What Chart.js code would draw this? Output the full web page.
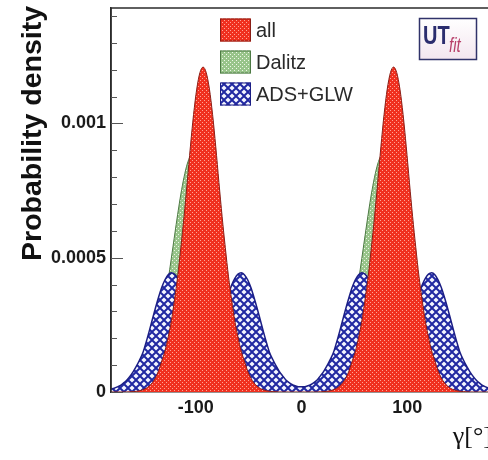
<!DOCTYPE html>
<html>
<head>
<meta charset="utf-8">
<script src="https://cdn.jsdelivr.net/npm/chart.js@4.4.1/dist/chart.umd.min.js"></script>
<style>
  html, body { margin: 0; padding: 0; background: #ffffff; overflow: hidden; width: 488px; height: 460px; }
  #wrap { position: relative; width: 520px; height: 460px; }
  canvas { display: block; }
</style>
</head>
<body>
<div id="wrap"><canvas id="pdf" width="520" height="460" style="width:520px;height:460px"></canvas></div>
<script>
// gamma sampling grid, degrees
const gammaDeg = [
  -180,-177,-174,-171,-168,-165,-162,-159,-156,-153,
  -150,-147,-144,-141,-138,-135,-132,-129,-126,-123,
  -120,-117,-114,-111,-108,-105,-102, -99, -96, -93,
   -90, -87, -84, -81, -78, -75, -72, -69, -66, -63,
   -60, -57, -54, -51, -48, -45, -42, -39, -36, -33,
   -30, -27, -24, -21, -18, -15, -12,  -9,  -6,  -3,
     0,   3,   6,   9,  12,  15,  18,  21,  24,  27,
    30,  33,  36,  39,  42,  45,  48,  51,  54,  57,
    60,  63,  66,  69,  72,  75,  78,  81,  84,  87,
    90,  93,  96,  99, 102, 105, 108, 111, 114, 117,
   120, 123, 126, 129, 132, 135, 138, 141, 144, 147,
   150, 153, 156, 159, 162, 165, 168, 171, 174, 177,
   180
];

// probability density of gamma, combined constraint
const allPdf = [
  0.0001e-3,0.0001e-3,0.0001e-3,0.0002e-3,0.0002e-3,0.0003e-3,0.0006e-3,0.0014e-3,0.0026e-3,0.0046e-3,
  0.0080e-3,0.0134e-3,0.0219e-3,0.0346e-3,0.0531e-3,0.0795e-3,0.116e-3,0.153e-3,0.204e-3,0.264e-3,
  0.343e-3,0.431e-3,0.538e-3,0.653e-3,0.780e-3,0.913e-3,1.033e-3,1.128e-3,1.189e-3,1.210e-3,
  1.189e-3,1.128e-3,1.033e-3,0.913e-3,0.780e-3,0.653e-3,0.538e-3,0.431e-3,0.343e-3,0.264e-3,
  0.204e-3,0.153e-3,0.116e-3,0.0795e-3,0.0531e-3,0.0346e-3,0.0219e-3,0.0134e-3,0.0080e-3,0.0046e-3,
  0.0026e-3,0.0014e-3,0.0006e-3,0.0003e-3,0.0002e-3,0.0002e-3,0.0001e-3,0.0001e-3,0.0001e-3,0.0001e-3,
  0.0001e-3,0.0001e-3,0.0001e-3,0.0002e-3,0.0002e-3,0.0003e-3,0.0006e-3,0.0014e-3,0.0026e-3,0.0046e-3,
  0.0080e-3,0.0134e-3,0.0219e-3,0.0346e-3,0.0531e-3,0.0795e-3,0.116e-3,0.153e-3,0.204e-3,0.264e-3,
  0.343e-3,0.431e-3,0.538e-3,0.653e-3,0.780e-3,0.913e-3,1.033e-3,1.128e-3,1.189e-3,1.210e-3,
  1.189e-3,1.128e-3,1.033e-3,0.913e-3,0.780e-3,0.653e-3,0.538e-3,0.431e-3,0.343e-3,0.264e-3,
  0.204e-3,0.153e-3,0.116e-3,0.0795e-3,0.0531e-3,0.0346e-3,0.0219e-3,0.0134e-3,0.0080e-3,0.0046e-3,
  0.0026e-3,0.0014e-3,0.0006e-3,0.0003e-3,0.0002e-3,0.0002e-3,0.0001e-3,0.0001e-3,0.0001e-3,0.0001e-3,
  0.0001e-3
];

// Dalitz-only constraint
const dalitzPdf = [
  0.0005e-3,0.0005e-3,0.001e-3,0.002e-3,0.003e-3,0.005e-3,0.008e-3,0.012e-3,0.019e-3,0.029e-3,
  0.043e-3,0.062e-3,0.087e-3,0.120e-3,0.162e-3,0.213e-3,0.272e-3,0.341e-3,0.417e-3,0.498e-3,
  0.581e-3,0.662e-3,0.737e-3,0.800e-3,0.849e-3,0.879e-3,0.890e-3,0.879e-3,0.849e-3,0.800e-3,
  0.737e-3,0.662e-3,0.581e-3,0.498e-3,0.417e-3,0.341e-3,0.272e-3,0.213e-3,0.162e-3,0.120e-3,
  0.087e-3,0.062e-3,0.043e-3,0.029e-3,0.019e-3,0.012e-3,0.008e-3,0.005e-3,0.003e-3,0.002e-3,
  0.001e-3,0.0005e-3,0.0005e-3,0.0005e-3,0.0005e-3,0.0005e-3,0.0005e-3,0.0005e-3,0.0005e-3,0.0005e-3,
  0.0005e-3,0.0005e-3,0.001e-3,0.002e-3,0.003e-3,0.005e-3,0.008e-3,0.012e-3,0.019e-3,0.029e-3,
  0.043e-3,0.062e-3,0.087e-3,0.120e-3,0.162e-3,0.213e-3,0.272e-3,0.341e-3,0.417e-3,0.498e-3,
  0.581e-3,0.662e-3,0.737e-3,0.800e-3,0.849e-3,0.879e-3,0.890e-3,0.879e-3,0.849e-3,0.800e-3,
  0.737e-3,0.662e-3,0.581e-3,0.498e-3,0.417e-3,0.341e-3,0.272e-3,0.213e-3,0.162e-3,0.120e-3,
  0.087e-3,0.062e-3,0.043e-3,0.029e-3,0.019e-3,0.012e-3,0.008e-3,0.005e-3,0.003e-3,0.002e-3,
  0.001e-3,0.0005e-3,0.0005e-3,0.0005e-3,0.0005e-3,0.0005e-3,0.0005e-3,0.0005e-3,0.0005e-3,0.0005e-3,
  0.0005e-3
];

// ADS + GLW constraint
const adsGlwPdf = [
  0.011e-3,0.014e-3,0.019e-3,0.025e-3,0.034e-3,0.045e-3,0.059e-3,0.076e-3,0.096e-3,0.119e-3,
  0.145e-3,0.183e-3,0.225e-3,0.269e-3,0.313e-3,0.354e-3,0.390e-3,0.418e-3,0.437e-3,0.444e-3,
  0.439e-3,0.423e-3,0.398e-3,0.365e-3,0.329e-3,0.291e-3,0.256e-3,0.225e-3,0.201e-3,0.193e-3,
  0.190e-3,0.193e-3,0.201e-3,0.225e-3,0.256e-3,0.291e-3,0.329e-3,0.365e-3,0.398e-3,0.423e-3,
  0.439e-3,0.444e-3,0.437e-3,0.419e-3,0.391e-3,0.354e-3,0.313e-3,0.269e-3,0.225e-3,0.183e-3,
  0.145e-3,0.120e-3,0.097e-3,0.077e-3,0.061e-3,0.046e-3,0.036e-3,0.028e-3,0.023e-3,0.020e-3,
  0.020e-3,0.020e-3,0.023e-3,0.028e-3,0.036e-3,0.046e-3,0.061e-3,0.077e-3,0.097e-3,0.120e-3,
  0.145e-3,0.183e-3,0.225e-3,0.269e-3,0.313e-3,0.354e-3,0.391e-3,0.419e-3,0.437e-3,0.444e-3,
  0.439e-3,0.423e-3,0.398e-3,0.365e-3,0.329e-3,0.291e-3,0.256e-3,0.225e-3,0.201e-3,0.193e-3,
  0.190e-3,0.193e-3,0.201e-3,0.225e-3,0.256e-3,0.291e-3,0.329e-3,0.365e-3,0.398e-3,0.423e-3,
  0.439e-3,0.444e-3,0.437e-3,0.418e-3,0.390e-3,0.354e-3,0.313e-3,0.269e-3,0.225e-3,0.183e-3,
  0.145e-3,0.119e-3,0.096e-3,0.076e-3,0.059e-3,0.045e-3,0.034e-3,0.025e-3,0.019e-3,0.014e-3,
  0.011e-3
];

const seriesLabels = ['all', 'Dalitz', 'ADS+GLW'];
const xTickValues = [-100, 0, 100];
const yTickValues = [0, 0.0005, 0.001];
const yTickLabels = ['0', '0.0005', '0.001'];
const yMinorStep = 0.0001;

const SANS = "'Liberation Sans', Arial, Helvetica, sans-serif";

// fill textures
function makeTile(size, bg, paint) {
  const t = document.createElement('canvas');
  t.width = t.height = size;
  const g = t.getContext('2d');
  g.fillStyle = bg;
  g.fillRect(0, 0, size, size);
  paint(g, size);
  return g.createPattern(t, 'repeat');
}
const redHatch = makeTile(4, '#f0301f', g => {
  g.fillStyle = '#ffa396';
  g.fillRect(0, 0, 1, 1);
  g.fillRect(2, 2, 1, 1);
});
const greenHatch = makeTile(4, '#98c48a', g => {
  g.fillStyle = '#eef7e8';
  g.fillRect(0, 0, 1, 1);
  g.fillRect(2, 2, 1, 1);
});
const blueHatch = makeTile(8, '#2028a2', g => {
  const hole = (cx, cy) => {
    g.beginPath();
    g.moveTo(cx, cy - 2.6);
    g.lineTo(cx + 2.6, cy);
    g.lineTo(cx, cy + 2.6);
    g.lineTo(cx - 2.6, cy);
    g.closePath();
    g.fill();
  };
  g.fillStyle = '#f4f6ff';
  [[4, 4], [0, 0], [8, 0], [0, 8], [8, 8]].forEach(([cx, cy]) => hole(cx, cy));
});

const toPoints = vals => gammaDeg.map((g, i) => ({ x: g, y: vals[i] }));

const decor = {
  id: 'decor',
  afterDatasetsDraw(chart) {
    const { ctx, chartArea: a, scales: { y } } = chart;
    ctx.save();
    ctx.strokeStyle = '#2b2b2b';
    ctx.lineWidth = 1.5;
    ctx.beginPath();
    ctx.moveTo(a.left, a.bottom);
    ctx.lineTo(a.left, a.top);
    ctx.lineTo(a.right, a.top);
    ctx.stroke();
    // inward y ticks
    ctx.strokeStyle = '#555';
    ctx.lineWidth = 1;
    for (let k = 0; k * yMinorStep <= y.max + 1e-12; k++) {
      const py = Math.round(y.getPixelForValue(k * yMinorStep)) + 0.5;
      const len = k % 5 === 0 ? 12 : 6;
      ctx.beginPath();
      ctx.moveTo(a.left, py);
      ctx.lineTo(a.left + len, py);
      ctx.stroke();
    }
    ctx.restore();
  },
  afterDraw(chart) {
    const { ctx, chartArea: a } = chart;
    ctx.save();
    // legend
    const lx = 220, pw = 31, ph = 23;
    const rows = [30, 62, 94];
    chart.data.datasets.forEach((ds, i) => {
      const cy = rows[i];
      ctx.fillStyle = ds.backgroundColor;
      ctx.fillRect(lx, cy - ph / 2, pw, ph);
      ctx.strokeStyle = ds.borderColor;
      ctx.lineWidth = 1;
      ctx.strokeRect(lx + 0.5, cy - ph / 2 + 0.5, pw - 1, ph - 1);
      ctx.fillStyle = '#2a2a2a';
      ctx.font = `20px ${SANS}`;
      ctx.textAlign = 'left';
      ctx.textBaseline = 'middle';
      ctx.fillText(ds.label, lx + pw + 5, cy + 1);
    });

    // collaboration badge
    const bx = 419.5, by = 18.5, bw = 57, bh = 41;
    const grad = ctx.createLinearGradient(0, by, 0, by + bh);
    grad.addColorStop(0, '#ffffff');
    grad.addColorStop(1, '#f3e6ef');
    ctx.fillStyle = grad;
    ctx.fillRect(bx, by, bw, bh);
    ctx.strokeStyle = '#30336a';
    ctx.lineWidth = 1.5;
    ctx.strokeRect(bx, by, bw, bh);
    ctx.save();
    ctx.translate(423, 44);
    ctx.scale(1, 1.3);
    ctx.font = `bold 20px ${SANS}`;
    ctx.fillStyle = '#2b2d6e';
    ctx.textAlign = 'left';
    ctx.textBaseline = 'alphabetic';
    ctx.fillText('UT', 0, 0);
    ctx.restore();
    ctx.save();
    ctx.translate(449, 52);
    ctx.scale(1, 1.3);
    ctx.font = `italic 15px ${SANS}`;
    ctx.fillStyle = '#b8406a';
    ctx.textBaseline = 'alphabetic';
    ctx.fillText('fit', 0, 0);
    ctx.restore();

    // axis titles
    ctx.save();
    ctx.translate(41, 6);
    ctx.rotate(-Math.PI / 2);
    ctx.font = `bold 28.5px ${SANS}`;
    ctx.fillStyle = '#111';
    ctx.textAlign = 'right';
    ctx.textBaseline = 'alphabetic';
    ctx.fillText('Probability density', 0, 0);
    ctx.restore();

    ctx.font = "26px 'Liberation Serif', 'Times New Roman', serif";
    ctx.fillStyle = '#111';
    ctx.textAlign = 'right';
    ctx.textBaseline = 'alphabetic';
    ctx.fillText('γ[°]', a.right, 444);
    ctx.restore();
  }
};

const tickFont = { family: SANS, size: 18, weight: 'bold' };

new Chart(document.getElementById('pdf'), {
  type: 'line',
  data: {
    datasets: [
      { label: seriesLabels[0], data: toPoints(allPdf), backgroundColor: redHatch, borderColor: '#8a1e16',
        borderWidth: 1, fill: 'origin', pointRadius: 0, cubicInterpolationMode: 'monotone', order: 0 },
      { label: seriesLabels[1], data: toPoints(dalitzPdf), backgroundColor: greenHatch, borderColor: '#4d7a44',
        borderWidth: 1, fill: 'origin', pointRadius: 0, cubicInterpolationMode: 'monotone', order: 2 },
      { label: seriesLabels[2], data: toPoints(adsGlwPdf), backgroundColor: blueHatch, borderColor: '#1c1f85',
        borderWidth: 1.5, fill: 'origin', pointRadius: 0, cubicInterpolationMode: 'monotone', order: 1 }
    ]
  },
  options: {
    responsive: false,
    animation: false,
    devicePixelRatio: 1,
    layout: { padding: { left: 0, top: 8, right: 28, bottom: 0 } },
    plugins: { legend: { display: false }, tooltip: { enabled: false } },
    scales: {
      x: {
        type: 'linear', min: -180, max: 180,
        grid: { display: false, drawTicks: false },
        border: { display: true, color: '#2b2b2b', width: 1.5 },
        ticks: { font: tickFont, color: '#1a1a1a', padding: 5, maxRotation: 0,
                 callback: v => String(v) },
        afterBuildTicks: s => { s.ticks = xTickValues.map(v => ({ value: v })); },
        afterFit: s => { s.height = 68; s.paddingLeft = 0; s.paddingRight = 0; }
      },
      y: {
        type: 'linear', min: 0, max: 0.00143,
        grid: { display: false, drawTicks: false },
        border: { display: true, color: '#2b2b2b', width: 1.5 },
        ticks: { font: tickFont, color: '#1a1a1a', padding: 5,
                 callback: v => { const i = yTickValues.findIndex(t => Math.abs(t - v) < 1e-9); return i >= 0 ? yTickLabels[i] : ''; } },
        afterBuildTicks: s => { s.ticks = yTickValues.map(v => ({ value: v })); },
        afterFit: s => { s.width = 111; s.paddingTop = 0; s.paddingBottom = 0; }
      }
    }
  },
  plugins: [decor]
});
</script>
</body>
</html>
